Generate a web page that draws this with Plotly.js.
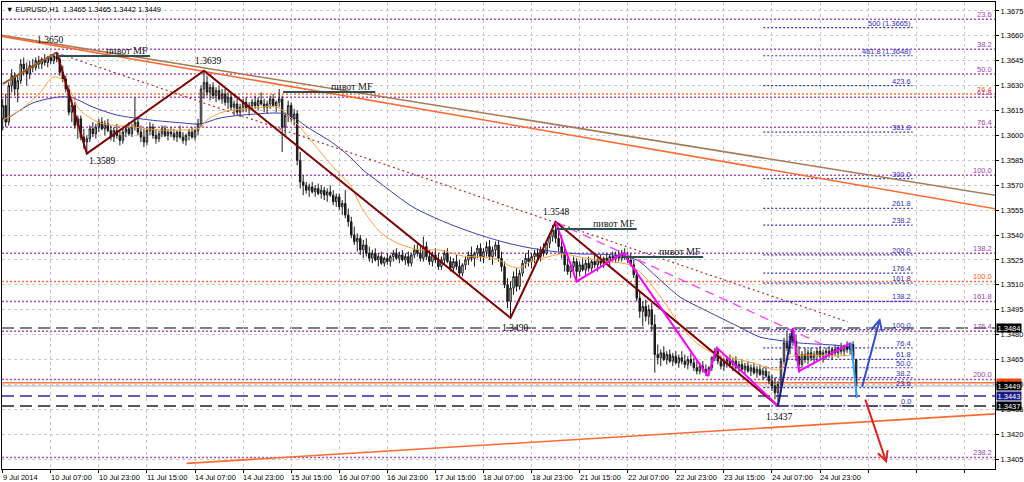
<!DOCTYPE html>
<html><head><meta charset="utf-8">
<script src="https://cdn.plot.ly/plotly-3.0.1.min.js"></script>
<style>html,body{margin:0;padding:0;background:#fff;}#chart{width:1024px;height:482px;}</style>
</head><body><div id="chart"></div>
<script>
// prices are given in pips above BASE
const BASE = 1.34;
const openP = [
210,218,208,230,236,228,233,243,240,237, 242,241,245,243,246,244,247,245,248,246,
238,234,228,214,218,206,210,199,196,198, 204,201,205,208,204,207,203,199,203,200,
197,202,204,201,205,208,202,199,196,203, 205,200,198,201,204,200,202,201,199,202,
199,197,200,202,199,203,207,228,232,226, 229,224,227,222,225,220,223,217,219,214,
217,220,216,218,220,218,221,219,217,219, 222,218,220,222,205,212,218,210,213,185,
172,170,167,169,166,168,165,167,164,166, 164,160,163,157,159,152,148,140,136,138,
131,134,129,126,129,125,127,123,126,124, 127,129,126,128,125,127,123,128,131,129,
126,133,127,124,128,125,121,125,129,124, 120,124,121,117,122,125,128,126,129,132,
127,130,133,127,131,134,126,121,110,100, 108,115,109,117,123,126,124,127,129,127,
131,129,135,139,143,138,133,129,122,118, 121,124,118,122,119,123,120,124,122,125,
123,126,124,127,126,128,126,129,127,125, 122,116,102,94,97,91,95,86,68,66,
69,65,68,64,67,63,66,64,62,65, 63,60,58,61,59,57,60,66,70,64,
61,63,65,62,64,60,62,59,61,58, 60,57,59,56,58,55,52,49,45,50,
64,75,72,79,76,67,62,68,65,69, 66,68,70,67,69,70,68,71,69,72,
70,73,71,74,65];
const highP = [
222,225,232,240,238,236,246,247,244,245, 246,247,248,247,249,248,249,249,250,247,
242,236,230,222,220,212,212,204,200,206, 208,207,210,211,209,210,206,205,207,204,
204,206,208,207,223,210,206,204,205,208, 207,204,203,206,206,204,205,204,203,206,
202,201,204,205,204,210,230,239,236,231, 232,229,230,228,228,226,225,221,222,219,
222,223,220,222,224,223,226,222,221,224, 225,221,228,224,214,221,220,216,215,190,
176,172,171,172,170,171,170,169,168,170, 167,165,165,161,167,156,151,145,141,140,
137,138,133,131,132,129,130,127,129,128, 131,132,130,131,129,130,129,134,135,133,
139,136,131,130,132,129,127,131,132,127, 126,128,125,123,127,130,133,130,134,135,
132,136,137,133,136,137,130,124,114,112, 118,120,119,125,129,131,129,131,132,133,
135,137,141,146,148,145,140,133,126,124, 127,126,124,126,125,127,125,128,126,128,
127,129,128,130,130,131,131,132,130,129, 125,119,106,100,101,98,99,92,74,71,
73,70,71,69,70,68,70,68,67,69, 66,64,63,64,62,61,67,72,71,67,
66,67,68,66,67,64,65,63,64,62, 63,61,62,60,61,58,56,54,52,66,
78,82,81,84,80,73,70,72,71,72, 70,72,73,71,72,73,72,74,73,75,
74,76,75,76,65];
const lowP = [
203,205,206,226,224,220,231,236,230,234, 238,239,240,240,242,241,243,243,244,236,
232,226,212,208,204,198,197,192,189,196, 199,198,202,203,200,202,197,196,198,194,
195,199,200,199,203,200,196,193,194,200, 198,195,196,199,199,197,199,197,196,198,
195,194,197,198,197,200,205,222,224,221, 222,220,221,219,218,216,215,212,213,211,
214,214,212,215,216,215,218,214,213,216, 217,214,217,190,200,208,208,206,182,168,
164,165,163,165,163,164,162,161,160,163, 158,157,155,152,150,145,138,134,130,128,
126,127,124,123,124,121,122,121,122,121, 124,125,123,124,122,121,121,126,127,124,
124,125,122,121,123,119,119,122,123,118, 117,119,115,115,119,122,124,121,126,124,
123,127,125,122,127,124,118,108,96,90, 104,106,107,115,120,121,120,123,125,124,
127,128,132,136,135,130,126,118,116,114, 117,112,115,118,116,118,117,120,118,121,
120,122,121,124,123,124,124,125,123,121, 114,100,90,85,88,86,82,57,62,61,
64,62,63,61,62,60,62,60,59,61, 58,56,56,57,55,55,58,64,62,59,
58,60,60,58,59,57,58,56,57,55, 56,54,55,53,54,50,46,41,37,48,
62,70,68,73,64,57,60,63,62,64, 62,64,65,63,65,66,65,67,66,68,
67,69,68,64,42];
const closeP = [
218,208,230,236,228,233,243,240,237,242, 241,245,243,246,244,247,245,248,246,238,
234,228,214,218,206,210,199,196,198,204, 201,205,208,204,207,203,199,203,200,197,
202,204,201,205,208,202,199,196,203,205, 200,198,201,204,200,202,201,199,202,199,
197,200,202,199,203,207,228,232,226,229, 224,227,222,225,220,223,217,219,214,217,
220,216,218,220,218,221,219,217,219,222, 218,220,222,205,212,218,210,213,185,172,
170,167,169,166,168,165,167,164,166,164, 160,163,157,159,152,148,140,136,138,131,
134,129,126,129,125,127,123,126,124,127, 129,126,128,125,127,123,128,131,129,126,
133,127,124,128,125,121,125,129,124,120, 124,121,117,122,125,128,126,129,132,127,
130,133,127,131,134,126,121,110,100,108, 115,109,117,123,126,124,127,129,127,131,
129,135,139,143,138,133,129,122,118,121, 124,118,122,119,123,120,124,122,125,123,
126,124,127,126,128,126,129,127,125,122, 116,102,94,97,91,95,86,68,66,69,
65,68,64,67,63,66,64,62,65,63, 60,58,61,59,57,60,66,70,64,61,
63,65,62,64,60,62,59,61,58,60, 57,59,56,58,55,52,49,45,50,64,
75,72,79,76,67,62,68,65,69,66, 68,70,67,69,70,68,71,69,72,70,
73,71,74,65,49];

// x tick labels (bar index every 16 hours)
const xTickIdx = [0,16,32,48,64,80,96,112,128,144,160,176,192,208,224,240,256,272];
const xTickText = ['9 Jul 2014','10 Jul 07:00','10 Jul 23:00','11 Jul 15:00','14 Jul 07:00','14 Jul 23:00',
 '15 Jul 15:00','16 Jul 07:00','16 Jul 23:00','17 Jul 15:00','18 Jul 07:00','18 Jul 23:00',
 '21 Jul 15:00','22 Jul 07:00','22 Jul 23:00','23 Jul 15:00','24 Jul 07:00','24 Jul 23:00'];
const xGridIdx = [0,16,32,48,64,80,96,112,128,144,160,176,192,208,224,240,256,272,288,304,320];
const yTicks = [1.3405,1.3420,1.3435,1.3450,1.3465,1.3480,1.3495,1.3510,1.3525,1.3540,1.3555,1.3570,1.3585,1.3600,1.3615,1.3630,1.3645,1.3660,1.3675];

// moving averages (bar index, pips)
const maFastI = [0.1,5.8,12.4,16.7,20.1,22.4,25.7,32.4,43.4,52.3,61.3,65.7,68,72.3,76.6,83.3,91.3,95.6,98.9,103.3,109.9,115.6,119.9,125.6,131.2,138.9,145.5,153.2,158.8,164.5,168.8,172.1,175.5,181.1,186.5,192.1,197.8,203.1,208.8,213.1,219.7,225.4,231,236.4,243,249.7,257.7,259.7,262,268.6,277.6,282.6];
const maFastV = [209.3,215.3,225.6,235.2,233.4,227.4,215.3,207.5,205.1,203.3,203.3,204.5,209.3,213.5,215.3,216.5,217.1,211.1,205.1,195.4,181,170.1,155.1,141.8,135.2,131,131,127.3,126.7,125.5,121.3,120.1,123.7,126.7,128.6,126.7,124.9,123.7,121.9,115.9,100.8,85.8,74.9,68.9,65.9,62.9,58.6,60.5,66.5,67.7,67.1,67.7];
const maSlowI = [2.4,10.1,19.1,23.4,30,38,49,60,65.7,72.3,80,91.3,95.6,101.3,109.9,115.6,119.9,125.6,136.5,147.9,158.8,167.8,175.5,184.5,192.1,203.1,211.1,217.7,225.4,233,244.4,252,257.7,265.3,276.3,282.6];
const maSlowV = [211.1,219.6,223.2,222.6,217.1,212.3,209.3,207.5,206.9,210.5,212.3,213.5,212.3,205.1,195.4,187,179.2,171.3,156.9,147.2,140,135.2,132.2,129.8,128.6,128,124.9,114.7,102.6,95.4,85.2,78.5,76.7,74.9,73.7,72.5];

// horizontal levels
const fibPurpleP = [1.3670,1.3652,1.3637,1.3623,1.3605,1.3576,1.3529,1.3500,1.3482,1.3453,1.3406];
const fibPurpleL = ['23.6','38.2','50.0','61.8','76.4','100.0','138.2','161.8','176.4','200.0','238.2'];
const fibOrangeP = [1.3625,1.3512];
const fibOrangeL = ['76.4','100.0'];
const fibBlueP = [1.3665,1.3648,1.3630,1.3602,1.3574,1.3556,1.3546,1.3528,1.3517,1.3511,1.3500,1.3483,1.3472,1.3465,1.3460,1.3454,1.3448,1.3437];
const fibBlueL = ['500 (1.3665)','461.8 (1.3648)','423.6','361.8','300.0','261.8','238.2','200.0','176.4','161.8','138.2','100.0','76.4','61.8','50.0','38.2','23.6','0.0'];
const fibBlueSpan = [253.1, 302.8];
const levelHigh = 1.3484, levelBlue = 1.3443, levelLow = 1.3437, levelOrange = 1.3451, bidPrice = 1.3449;

// trend lines [i0,i1],[p0,p1]
const trendBrownI = [-1, 331], trendBrownP = [1.36605, 1.35637];
const trendOrangeI = [-1, 331], trendOrangeP = [1.36599, 1.35556];
const trendLowI = [61.2, 331], trendLowP = [1.34024, 1.34323];
const dottedI = [18, 281.3], dottedP = [1.36497, 1.34876];
const pinkDashI = [184, 274.6], pinkDashP = [1.35478, 1.34725];

// zigzags
const zzBrownI = [0, 18], zzBrownP = [1.3631, 1.3650];
const zzRedI = [18, 28, 67, 169, 184, 258], zzRedP = [1.3650, 1.3589, 1.3639, 1.3490, 1.3548, 1.3437];
const zzBlueI = [258, 263], zzBlueP = [1.3437, 1.3484];
const zzMagAI = [184, 191, 206.5, 234.7, 237.7, 258], zzMagAP = [1.3548, 1.3512, 1.3529, 1.3455, 1.3472, 1.3437];
const zzMagBI = [263, 265, 282.3], zzMagBP = [1.3484, 1.3458, 1.3475];
const zzCyanI = [282.3, 284.3], zzCyanP = [1.3475, 1.3442];

// pivot MF segments
const pivotStartI = [18, 93.3, 184, 206.4];
const pivotEndI = [49, 124, 211, 233.1];
const pivotP = [1.36479, 1.36262, 1.35436, 1.35267];

// swing labels
const swingI = [18, 28, 67, 169, 184, 258];
const swingP = [1.3650, 1.3589, 1.3639, 1.3490, 1.3548, 1.3437];
const swingOff = [[-7,12.5],[15,-7],[4,10],[4.5,-10.5],[0,9.5],[1,-11.5]];

// forecast arrows: tail -> head
const arrowUp = {ti:285.9, tp:1.34476, hi:292, hp:1.3490};
const arrowDown = {ti:286.9, tp:1.34417, hi:294.2, hp:1.34024};

const P = v => BASE + v / 10000;
const idx = openP.map((_, k) => k);

const traces = [];
traces.push({type:'candlestick', x: idx, open: openP.map(P), high: highP.map(P), low: lowP.map(P), close: closeP.map(P),
  increasing:{line:{color:'#1a1a1a', width:1}, fillcolor:'#ffffff'},
  decreasing:{line:{color:'#1a1a1a', width:1}, fillcolor:'#1a1a1a'},
  whiskerwidth:0, hoverinfo:'skip', showlegend:false});
const line = (xs, ys, color, width, dash, shape) => ({type:'scatter', mode:'lines', x: xs, y: ys,
  line:{color, width, dash: dash || 'solid', shape: shape || 'linear', smoothing: 0.8}, hoverinfo:'skip', showlegend:false, cliponaxis:true});
traces.push(line(maSlowI, maSlowV.map(P), '#3c3cae', 1, null, 'spline'));
traces.push(line(maFastI, maFastV.map(P), '#ffa033', 1, null, 'spline'));
traces.push(line(trendBrownI, trendBrownP, '#a87a55', 1.6));
traces.push(line(trendOrangeI, trendOrangeP, '#ff6a30', 1.6));
traces.push(line(trendLowI, trendLowP, '#ff6a30', 1.6));
traces.push(line(dottedI, dottedP, '#a83030', 1.2, '2px,3px'));
traces.push(line(pinkDashI, pinkDashP, '#ff44ff', 1.3, '9px,6px'));
traces.push(line(zzBrownI, zzBrownP, '#9c5a2c', 2));
traces.push(line(zzRedI, zzRedP, '#800000', 2));
traces.push(line(zzMagAI, zzMagAP, '#ff00ff', 2));
traces.push(line(zzBlueI, zzBlueP, '#1a1a8c', 2));
traces.push(line(zzMagBI, zzMagBP, '#ff00ff', 2));
traces.push(line(zzCyanI, zzCyanP, '#33a0ff', 2));
pivotP.forEach((p, k) => traces.push(line([pivotStartI[k], pivotEndI[k]], [p, p], '#2f4f4f', 2)));

const shapes = [];
const hline = (p, color, width, dash) => ({type:'line', xref:'paper', x0:0, x1:1, yref:'y', y0:p, y1:p, layer:'between', line:{color, width, dash}});
fibPurpleP.forEach(p => shapes.push(hline(p, '#b04cc0', 1.5, '2px,2px')));
fibOrangeP.forEach(p => shapes.push(hline(p, '#ff6a30', 1.5, '2px,2px')));
fibBlueP.forEach(p => shapes.push({type:'line', xref:'x', x0:fibBlueSpan[0], x1:fibBlueSpan[1], yref:'y', y0:p, y1:p, layer:'between', line:{color:'#3a3ab8', width:1.2, dash:'2px,2px'}}));
shapes.push(hline(levelHigh, '#808080', 2, '12px,6px'));
shapes.push(hline(levelBlue, '#2b2b9c', 1.4, '12px,6px'));
shapes.push(hline(levelLow, '#222222', 1.4, '12px,6px'));
shapes.push(hline(bidPrice, '#c8c8c8', 1.5, 'solid'));
shapes.push(hline(levelOrange, '#ff7040', 1.5, 'solid'));

const ann = [];
const sans = 'Liberation Sans, Arial, sans-serif';
const serif = 'Liberation Serif, Times New Roman, serif';
xTickIdx.forEach((i, k) => ann.push({xref:'x', yref:'paper', x:i, y:0, xanchor:'left', yanchor:'top', yshift:-2, xshift:-2,
  text:xTickText[k], showarrow:false, font:{family:sans, size:7.5, color:'#000'}}));
fibPurpleP.forEach((p, k) => ann.push({xref:'paper', yref:'y', x:1, y:p, xanchor:'right', yanchor:'bottom', xshift:-1, yshift:-2,
  text:fibPurpleL[k], showarrow:false, font:{family:sans, size:7.5, color:'#a040b4'}}));
fibOrangeP.forEach((p, k) => ann.push({xref:'paper', yref:'y', x:1, y:p, xanchor:'right', yanchor:'bottom', xshift:-1, yshift:-2,
  text:fibOrangeL[k], showarrow:false, font:{family:sans, size:7.5, color:'#ff5a20'}}));
fibBlueP.forEach((p, k) => ann.push({xref:'x', yref:'y', x:fibBlueSpan[1], y:p, xanchor:'right', yanchor:'bottom', yshift:-2,
  text:fibBlueL[k], showarrow:false, font:{family:sans, size:7.5, color:'#3030b8'}}));
pivotP.forEach((p, k) => ann.push({xref:'x', yref:'y', x:pivotEndI[k], y:p, xanchor:'right', yanchor:'bottom', yshift:-2,
  text:'пивот MF', showarrow:false, font:{family:serif, size:10, color:'#1a1a1a'}}));
swingI.forEach((i, k) => ann.push({xref:'x', yref:'y', x:i, y:swingP[k], xanchor:'center', yanchor:'middle',
  xshift:swingOff[k][0], yshift:swingOff[k][1], text:swingP[k].toFixed(4), showarrow:false, font:{family:serif, size:9.5, color:'#000'}}));
[arrowUp, arrowDown].forEach((a, k) => ann.push({xref:'x', yref:'y', axref:'x', ayref:'y', x:a.hi, y:a.hp, ax:a.ti, ay:a.tp,
  text:'', showarrow:true, arrowhead:5, arrowsize:1, arrowwidth:2, standoff:0, startstandoff:0, arrowcolor: k === 0 ? '#2f4fd0' : '#e82020'}));
// price boxes on the axis
const boxes = [[levelHigh,'#000000'],[levelOrange,'#ff4500'],[bidPrice,'#000000'],[levelBlue,'#1a1a8c'],[levelLow,'#000000']];
boxes.forEach(b => ann.push({xref:'paper', yref:'y', x:1, y:b[0], xanchor:'left', yanchor:'middle', xshift:1,
  text:b[0].toFixed(4), showarrow:false, bgcolor:b[1], width:24, height:8, borderpad:0, font:{family:sans, size:7.5, color:'#fff'}}));
ann.push({xref:'paper', yref:'paper', x:0, y:1, xanchor:'left', yanchor:'top', xshift:2, yshift:-1,
  text:'▼ EURUSD,H1  1.3465 1.3465 1.3442 1.3449', showarrow:false, font:{family:sans, size:7.5, color:'#000'}});

const layout = {
  width:1024, height:482, autosize:false,
  margin:{l:2, r:29, t:2, b:13, pad:0},
  paper_bgcolor:'#ffffff', plot_bgcolor:'#ffffff', showlegend:false,
  xaxis:{range:[-0.23, 330.22], tickmode:'array', tickvals:xGridIdx, showticklabels:false, ticks:'outside', ticklen:3,
    tickcolor:'#000', showgrid:true, gridcolor:'#c8c8c8', griddash:'3px,3px', gridwidth:1, showline:true, linecolor:'#000',
    linewidth:1, mirror:true, zeroline:false, rangeslider:{visible:false}, fixedrange:true},
  yaxis:{side:'right', range:[1.33990, 1.36804], tickmode:'array', tickvals:yTicks, tickformat:'.4f', ticks:'outside', ticklen:3,
    tickcolor:'#000', tickfont:{family:sans, size:7.5, color:'#000'}, showgrid:true, gridcolor:'#c8c8c8', griddash:'3px,3px',
    showline:true, linecolor:'#000', linewidth:1, mirror:true, zeroline:false, fixedrange:true},
  shapes, annotations: ann
};
Plotly.newPlot('chart', traces, layout, {staticPlot:true, displayModeBar:false});
</script>
</body></html>
